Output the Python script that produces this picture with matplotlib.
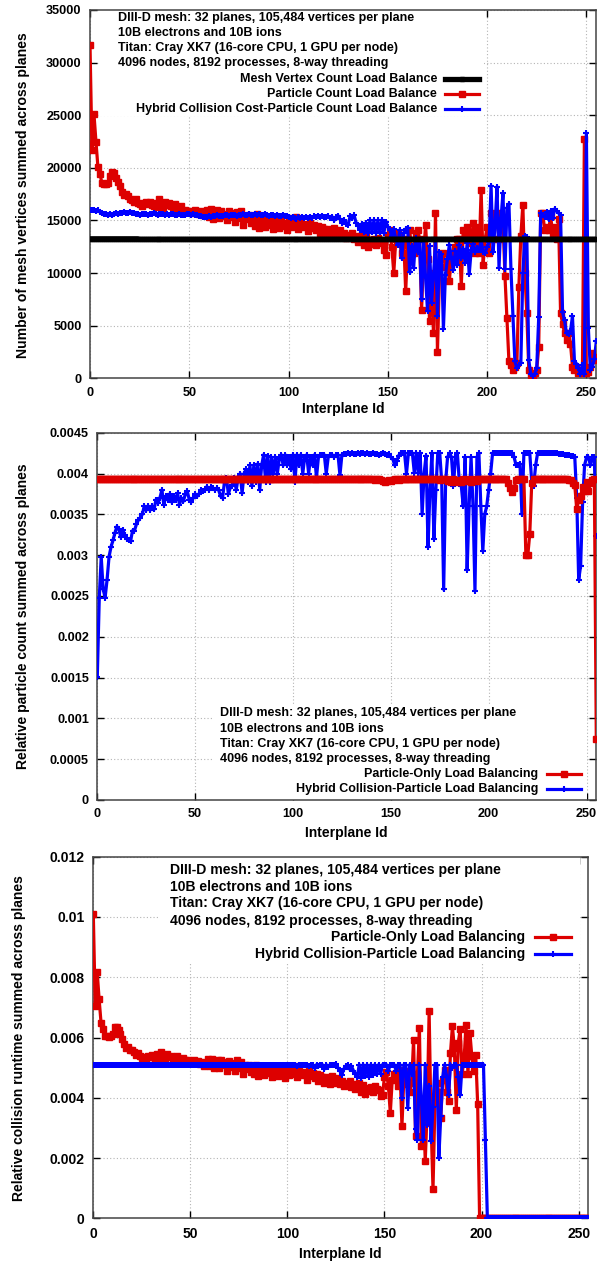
import matplotlib
matplotlib.use('Agg')
import matplotlib.pyplot as plt
from matplotlib.lines import Line2D
from matplotlib.patches import Rectangle
from matplotlib.ticker import FuncFormatter, MultipleLocator
import numpy as np

# ---------------- data ----------------
interplane = np.arange(256)

# Panel 1: number of mesh vertices summed across planes
mesh_vertex_lb = [
    13250, 13250, 13250, 13250, 13250, 13250, 13250, 13250, 13250, 13250,
    13250, 13250, 13250, 13250, 13250, 13250, 13250, 13250, 13250, 13250,
    13250, 13250, 13250, 13250, 13250, 13200, 13200, 13200, 13200, 13200,
    13200, 13200, 13200, 13200, 13200, 13200, 13200, 13200, 13200, 13200,
    13200, 13200, 13200, 13200, 13200, 13200, 13200, 13200, 13200, 13200,
    13200, 13200, 13200, 13200, 13200, 13200, 13200, 13200, 13200, 13200,
    13200, 13200, 13200, 13200, 13200, 13200, 13200, 13200, 13200, 13200,
    13200, 13200, 13200, 13200, 13200, 13200, 13200, 13200, 13200, 13200,
    13200, 13200, 13200, 13200, 13200, 13200, 13200, 13200, 13200, 13200,
    13200, 13200, 13200, 13200, 13200, 13200, 13200, 13200, 13200, 13200,
    13200, 13200, 13200, 13200, 13200, 13200, 13200, 13200, 13200, 13200,
    13200, 13200, 13200, 13200, 13200, 13200, 13200, 13200, 13200, 13200,
    13200, 13200, 13200, 13200, 13200, 13200, 13200, 13200, 13200, 13200,
    13200, 13200, 13200, 13200, 13200, 13200, 13200, 13200, 13200, 13200,
    13200, 13200, 13200, 13200, 13200, 13200, 13200, 13200, 13200, 13200,
    13200, 13200, 13200, 13200, 13200, 13200, 13200, 13200, 13200, 13200,
    13200, 13200, 13200, 13200, 13200, 13200, 13200, 13200, 13200, 13200,
    13200, 13200, 13200, 13200, 13200, 13200, 13200, 13200, 13200, 13200,
    13200, 13200, 13200, 13200, 13200, 13200, 13200, 13200, 13200, 13200,
    13200, 13200, 13200, 13200, 13200, 13200, 13200, 13200, 13200, 13200,
    13200, 13200, 13200, 13200, 13200, 13200, 13200, 13200, 13200, 13200,
    13200, 13200, 13200, 13200, 13200, 13200, 13200, 13200, 13200, 13200,
    13200, 13200, 13200, 13200, 13200, 13200, 13200, 13200, 13200, 13200,
    13200, 13200, 13200, 13200, 13200, 13200, 13200, 13200, 13200, 13200,
    13200, 13200, 13200, 13200, 13200, 13200, 13200, 13200, 13200, 13200,
    13200, 13200, 13200, 13200, 13200, 13200,
]
particle_count_lb = [
    31700, 21700, 25100, 22500, 20050, 19450, 18550, 18450, 18500, 18550,
    19200, 19600, 19500, 19000, 18700, 18250, 17750, 17450, 17500, 17300,
    17050, 16900, 16800, 17000, 16700, 16600, 16350, 16650, 16800, 16600,
    16800, 16500, 16400, 16700, 16300, 17000, 16600, 16200, 16800, 16500,
    16700, 16400, 16300, 16600, 16200, 16100, 16400, 15900, 16000, 15900,
    15800, 15900, 15700, 16000, 15800, 15600, 15900, 15500, 15700, 16000,
    15300, 16100, 15100, 15800, 16000, 15200, 15900, 15400, 15600, 15000,
    15900, 15300, 15700, 14900, 15800, 15200, 15900, 14600, 15400, 15100,
    15500, 14800, 15300, 14500, 15600, 14300, 15200, 14900, 14400, 15300,
    14600, 15100, 14200, 15000, 14700, 14300, 15100, 14500, 14800, 14100,
    15200, 14400, 14900, 14600, 15300, 14200, 14800, 14400, 14700, 14500,
    14000, 14800, 14300, 14600, 14100, 14500, 13800, 14400, 14200, 13600,
    14200, 13900, 13500, 14300, 13600, 14000, 14100, 13500, 13800, 13300,
    13600, 13400, 13800, 13200, 13500, 13000, 13300, 13600, 12700, 13400,
    12500, 13100, 12800, 13200, 12700, 13300, 13000, 12900, 12200, 11700,
    13500, 14100, 12500, 10000, 13200, 13800, 12850, 11900, 13200, 8250,
    12700, 14100, 12200, 11900, 13800, 14100, 13200, 6500, 11600, 14600,
    11300, 5400, 10000, 4300, 15700, 2540, 9700, 11300, 11900, 10600,
    11000, 9200, 11900, 11300, 12500, 13200, 13200, 8730, 14100, 13500,
    14400, 13800, 12850, 14750, 11900, 14400, 11900, 17900, 10800, 13200,
    14400, 11900, 15700, 13200, 15100, 15400, 13200, 15700, 15100, 9700,
    5700, 1600, 1270, 800, 1100, 1430, 8700, 13500, 16500, 10000,
    6200, 800, 320, 160, 480, 800, 3000, 15700, 15700, 14100,
    14400, 14100, 15400, 13800, 14400, 13200, 15100, 6200, 5200, 4300,
    3650, 4300, 3300, 1100, 800, 1100, 480, 800, 480, 22700,
    480, 630, 1100, 2400, 1750, 2060,
]
hybrid_cost_lb = [
    16000, 15950, 15950, 15900, 15950, 15800, 15700, 15650, 15600, 15500,
    15600, 15550, 15600, 15700, 15650, 15750, 15700, 15800, 15750, 15700,
    15800, 15750, 15700, 15650, 15600, 15550, 15600, 15650, 15600, 15550,
    15600, 15650, 15700, 15600, 15550, 15600, 15650, 15600, 15550, 15600,
    15550, 15600, 15650, 15550, 15500, 15600, 15550, 15500, 15550, 15600,
    15650, 15550, 15600, 15500, 15550, 15450, 15400, 15350, 15300, 15350,
    15400, 15350, 15450, 15400, 15500, 15450, 15400, 15450, 15550, 15500,
    15450, 15500, 15550, 15500, 15450, 15550, 15500, 15600, 15550, 15500,
    15600, 15550, 15500, 15600, 15550, 15650, 15500, 15550, 15600, 15500,
    15450, 15500, 15550, 15450, 15500, 15400, 15450, 15500, 15400, 15450,
    15300, 15200, 15300, 15250, 15150, 15300, 15200, 15350, 15250, 15300,
    15200, 15350, 15250, 15400, 15300, 15450, 15350, 15400, 15300, 15350,
    15400, 15200, 15350, 15000, 15300, 15450, 15100, 14800, 15000, 14700,
    14600, 15400, 15200, 15500, 14800, 14500, 14100, 14700, 13900, 14800,
    13800, 15000, 13900, 15000, 13800, 15000, 13900, 15000, 13800, 14900,
    14400, 14100, 13500, 14200, 13200, 12700, 14100, 11400, 13800, 14200,
    14300, 10100, 12600, 10500, 13300, 12000, 13000, 7500, 13100, 9600,
    6400, 12600, 7200, 9700, 13100, 5900, 12000, 11800, 4700, 9800,
    11300, 12700, 11500, 10300, 12100, 10800, 12700, 11400, 12300, 11000,
    12900, 9900, 12200, 12800, 12000, 12400, 12200, 13100, 12000, 11900,
    12500, 13000, 18300, 12000, 14500, 18200, 10500, 15200, 17600, 10400,
    16200, 16600, 10400, 5900, 1600, 1000, 1250, 1500, 10000, 13500,
    13400, 1700, 400, 200, 400, 1000, 5800, 15700, 15500, 15300,
    15800, 15100, 15900, 15200, 16100, 15900, 15700, 15500, 6300, 5500,
    4300, 4200, 4500, 5900, 1600, 1400, 950, 400, 1300, 400,
    23300, 4800, 800, 1100, 1800, 3500,
]

# Panel 2: relative particle count summed across planes
particle_only_count = [
    0.00393, 0.00393, 0.00393, 0.00393, 0.00393, 0.00393, 0.00393, 0.00393, 0.00393, 0.00393,
    0.00393, 0.00393, 0.00393, 0.00393, 0.00393, 0.00393, 0.00393, 0.00393, 0.00393, 0.00393,
    0.00393, 0.00393, 0.00393, 0.00393, 0.00393, 0.00393, 0.00393, 0.00393, 0.00393, 0.00393,
    0.00393, 0.00393, 0.00393, 0.00393, 0.00393, 0.00393, 0.00393, 0.00393, 0.00393, 0.00393,
    0.00393, 0.00393, 0.00393, 0.00393, 0.00393, 0.00393, 0.00393, 0.00393, 0.00393, 0.00393,
    0.00393, 0.00393, 0.00393, 0.00393, 0.00393, 0.00393, 0.00393, 0.00393, 0.00393, 0.00393,
    0.00393, 0.00393, 0.00393, 0.00393, 0.00393, 0.00393, 0.00393, 0.00393, 0.00393, 0.00393,
    0.00393, 0.00393, 0.00393, 0.00393, 0.00393, 0.00393, 0.00393, 0.00393, 0.00393, 0.00393,
    0.00393, 0.00393, 0.00393, 0.00393, 0.00393, 0.00393, 0.00393, 0.00393, 0.00393, 0.00393,
    0.00393, 0.00393, 0.00393, 0.00393, 0.00393, 0.00393, 0.00393, 0.00393, 0.00393, 0.00393,
    0.00393, 0.00393, 0.00393, 0.00393, 0.00393, 0.00393, 0.00393, 0.00393, 0.00393, 0.00393,
    0.00393, 0.00393, 0.00393, 0.00393, 0.00393, 0.00393, 0.00393, 0.00393, 0.00393, 0.00393,
    0.00393, 0.00393, 0.00393, 0.00393, 0.00393, 0.00393, 0.00393, 0.00393, 0.00393, 0.00393,
    0.00393, 0.00393, 0.00393, 0.00393, 0.00393, 0.00393, 0.00393, 0.00393, 0.00393, 0.00393,
    0.00393, 0.00393, 0.00392, 0.00393, 0.00393, 0.00392, 0.00391, 0.00390, 0.00391, 0.00392,
    0.00391, 0.00392, 0.00393, 0.00393, 0.00392, 0.00393, 0.00393, 0.00393, 0.00393, 0.00393,
    0.00393, 0.00393, 0.00393, 0.00393, 0.00393, 0.00393, 0.00393, 0.00393, 0.00393, 0.00393,
    0.00393, 0.00393, 0.00393, 0.00393, 0.00393, 0.00392, 0.00393, 0.00393, 0.00393, 0.00391,
    0.00392, 0.00390, 0.00393, 0.00391, 0.00389, 0.00392, 0.00390, 0.00393, 0.00391, 0.00392,
    0.00393, 0.00390, 0.00392, 0.00393, 0.00391, 0.00393, 0.00393, 0.00393, 0.00393, 0.00393,
    0.00393, 0.00393, 0.00393, 0.00393, 0.00393, 0.00393, 0.00393, 0.00393, 0.00393, 0.00393,
    0.00388, 0.00382, 0.00377, 0.00382, 0.00392, 0.00393, 0.00393, 0.00393, 0.00393, 0.00300,
    0.00300, 0.00326, 0.00388, 0.00393, 0.00393, 0.00393, 0.00393, 0.00393, 0.00393, 0.00393,
    0.00393, 0.00393, 0.00393, 0.00393, 0.00393, 0.00393, 0.00393, 0.00393, 0.00393, 0.00393,
    0.00393, 0.00392, 0.00392, 0.00388, 0.00386, 0.00356, 0.00368, 0.00372, 0.00384, 0.00378,
    0.00390, 0.00379, 0.00388, 0.00392, 0.00393, 0.00075,
]
hybrid_count = [
    0.00151, 0.00247, 0.00298, 0.00258, 0.00248, 0.00270, 0.00298, 0.00310, 0.00318, 0.00327,
    0.00335, 0.00332, 0.00322, 0.00331, 0.00325, 0.00320, 0.00318, 0.00317, 0.00330, 0.00330,
    0.00338, 0.00343, 0.00346, 0.00350, 0.00360, 0.00355, 0.00360, 0.00355, 0.00360, 0.00356,
    0.00368, 0.00364, 0.00370, 0.00380, 0.00362, 0.00372, 0.00368, 0.00375, 0.00365, 0.00372,
    0.00368, 0.00376, 0.00362, 0.00370, 0.00366, 0.00375, 0.00378, 0.00368, 0.00365, 0.00370,
    0.00375, 0.00372, 0.00375, 0.00380, 0.00378, 0.00380, 0.00384, 0.00380, 0.00383, 0.00382,
    0.00380, 0.00382, 0.00380, 0.00372, 0.00370, 0.00390, 0.00394, 0.00375, 0.00383, 0.00385,
    0.00395, 0.00380, 0.00395, 0.00400, 0.00376, 0.00400, 0.00405, 0.00390, 0.00410, 0.00385,
    0.00410, 0.00390, 0.00412, 0.00380, 0.00410, 0.00423, 0.00390, 0.00422, 0.00390, 0.00420,
    0.00400, 0.00420, 0.00400, 0.00418, 0.00423, 0.00410, 0.00423, 0.00410, 0.00420, 0.00405,
    0.00423, 0.00390, 0.00423, 0.00410, 0.00423, 0.00400, 0.00420, 0.00423, 0.00400, 0.00420,
    0.00410, 0.00423, 0.00395, 0.00420, 0.00423, 0.00423, 0.00423, 0.00400, 0.00420, 0.00423,
    0.00423, 0.00420, 0.00423, 0.00423, 0.00398, 0.00423, 0.00424, 0.00424, 0.00425, 0.00424,
    0.00425, 0.00424, 0.00424, 0.00425, 0.00424, 0.00425, 0.00425, 0.00424, 0.00425, 0.00424,
    0.00424, 0.00425, 0.00424, 0.00424, 0.00423, 0.00424, 0.00425, 0.00424, 0.00423, 0.00424,
    0.00420, 0.00418, 0.00410, 0.00415, 0.00422, 0.00425, 0.00425, 0.00425, 0.00400, 0.00425,
    0.00425, 0.00425, 0.00401, 0.00425, 0.00401, 0.00425, 0.00350, 0.00400, 0.00422, 0.00310,
    0.00380, 0.00425, 0.00320, 0.00380, 0.00425, 0.00425, 0.00390, 0.00258, 0.00390, 0.00420,
    0.00425, 0.00420, 0.00385, 0.00420, 0.00425, 0.00390, 0.00385, 0.00360, 0.00420, 0.00282,
    0.00360, 0.00420, 0.00360, 0.00256, 0.00420, 0.00425, 0.00360, 0.00305, 0.00350, 0.00360,
    0.00380, 0.00400, 0.00425, 0.00425, 0.00425, 0.00425, 0.00425, 0.00425, 0.00425, 0.00425,
    0.00425, 0.00425, 0.00425, 0.00420, 0.00410, 0.00410, 0.00412, 0.00350, 0.00425, 0.00425,
    0.00425, 0.00425, 0.00390, 0.00385, 0.00410, 0.00425, 0.00425, 0.00425, 0.00425, 0.00425,
    0.00425, 0.00425, 0.00425, 0.00425, 0.00425, 0.00425, 0.00424, 0.00424, 0.00424, 0.00423,
    0.00423, 0.00423, 0.00422, 0.00422, 0.00420, 0.00370, 0.00270, 0.00287, 0.00365, 0.00410,
    0.00420, 0.00420, 0.00410, 0.00420, 0.00420, 0.00323,
]

# Panel 3: relative collision runtime summed across planes
particle_only_runtime = [
    0.0101, 0.00703, 0.00817, 0.00727, 0.00648, 0.00628, 0.00604, 0.00604, 0.00602, 0.00604,
    0.0061, 0.00634, 0.00634, 0.00626, 0.0061, 0.00595, 0.0058, 0.00565, 0.0057, 0.00558,
    0.0056, 0.00551, 0.00543, 0.00548, 0.00538, 0.00532, 0.00536, 0.0053, 0.00538, 0.00534,
    0.00542, 0.00536, 0.00528, 0.00545, 0.00532, 0.00552, 0.00538, 0.0053, 0.00546, 0.00534,
    0.0054, 0.0053, 0.00526, 0.00538, 0.00528, 0.0052, 0.00532, 0.00524, 0.0052, 0.00526,
    0.00522, 0.00518, 0.00524, 0.00515, 0.00522, 0.00512, 0.0052, 0.00505, 0.00516, 0.00528,
    0.00505, 0.0053, 0.00498, 0.00522, 0.00526, 0.005, 0.00524, 0.00508, 0.00518, 0.0049,
    0.00522, 0.00502, 0.00516, 0.00488, 0.00524, 0.00498, 0.0052, 0.0048, 0.00508, 0.00495,
    0.00508, 0.00485, 0.00502, 0.00478, 0.0051, 0.00472, 0.00502, 0.0049, 0.00475, 0.00505,
    0.00482, 0.00498, 0.00468, 0.00495, 0.00485, 0.00472, 0.005, 0.00478, 0.00488, 0.00465,
    0.00502, 0.00475, 0.0049, 0.0048, 0.00505, 0.00468, 0.00488, 0.00475, 0.00485, 0.00478,
    0.0046, 0.00488, 0.00472, 0.00482, 0.00465, 0.00478, 0.00455, 0.00475, 0.00468, 0.00448,
    0.0047, 0.00458, 0.00445, 0.00472, 0.00448, 0.00462, 0.00465, 0.00445, 0.00455, 0.0044,
    0.00448, 0.00442, 0.00455, 0.00435, 0.00445, 0.00428, 0.0044, 0.00448, 0.00418, 0.00442,
    0.00412, 0.00432, 0.00422, 0.00435, 0.00418, 0.00438, 0.00428, 0.00425, 0.00405, 0.0041,
    0.0047, 0.00485, 0.0044, 0.0035, 0.0046, 0.00478, 0.00482, 0.0044, 0.00492, 0.00306,
    0.0047, 0.00445, 0.0049, 0.0042, 0.0045, 0.00593, 0.00273, 0.0048, 0.00631, 0.0024,
    0.0039, 0.0019, 0.0036, 0.00687, 0.00317, 0.00096, 0.00383, 0.0045, 0.0042, 0.00333,
    0.0046, 0.00493, 0.0042, 0.0039, 0.00549, 0.00637, 0.00565, 0.0036, 0.00582, 0.00628,
    0.0048, 0.00527, 0.00643, 0.0048, 0.00615, 0.00538, 0.0049, 0.00543, 0.0038, 0.0,
    0.0, 0.0, 0.0, 0.0, 0.0, 0.0, 0.0, 0.0, 0.0, 0.0,
    0.0, 0.0, 0.0, 0.0, 0.0, 0.0, 0.0, 0.0, 0.0, 0.0,
    0.0, 0.0, 0.0, 0.0, 0.0, 0.0, 0.0, 0.0, 0.0, 0.0,
    0.0, 0.0, 0.0, 0.0, 0.0, 0.0, 0.0, 0.0, 0.0, 0.0,
    0.0, 0.0, 0.0, 0.0, 0.0, 0.0, 0.0, 0.0, 0.0, 0.0,
    0.0, 0.0, 0.0, 0.0, 0.0, 0.0,
]
hybrid_runtime = [
    0.0051, 0.0051, 0.0051, 0.0051, 0.0051, 0.0051, 0.0051, 0.0051, 0.0051, 0.0051,
    0.0051, 0.0051, 0.0051, 0.0051, 0.0051, 0.0051, 0.0051, 0.0051, 0.0051, 0.0051,
    0.0051, 0.0051, 0.0051, 0.0051, 0.0051, 0.0051, 0.0051, 0.0051, 0.0051, 0.0051,
    0.0051, 0.0051, 0.0051, 0.0051, 0.0051, 0.0051, 0.0051, 0.0051, 0.0051, 0.0051,
    0.0051, 0.0051, 0.0051, 0.0051, 0.0051, 0.0051, 0.0051, 0.0051, 0.0051, 0.0051,
    0.0051, 0.0051, 0.0051, 0.0051, 0.0051, 0.0051, 0.0051, 0.0051, 0.0051, 0.0051,
    0.0051, 0.0051, 0.0051, 0.0051, 0.0051, 0.0051, 0.0051, 0.0051, 0.0051, 0.0051,
    0.0051, 0.0051, 0.0051, 0.0051, 0.0051, 0.0051, 0.0051, 0.0051, 0.0051, 0.0051,
    0.0051, 0.0051, 0.0051, 0.0051, 0.0051, 0.0051, 0.0051, 0.0051, 0.0051, 0.0051,
    0.0051, 0.0051, 0.0051, 0.0051, 0.0051, 0.0051, 0.0051, 0.0051, 0.0051, 0.0051,
    0.0051, 0.0051, 0.00508, 0.0051, 0.0051, 0.00505, 0.0051, 0.0051, 0.0051, 0.00508,
    0.0051, 0.00505, 0.0051, 0.0051, 0.00498, 0.0051, 0.00505, 0.0051, 0.0051, 0.00495,
    0.0051, 0.00502, 0.0051, 0.0051, 0.00508, 0.00512, 0.005, 0.0049, 0.00475, 0.00495,
    0.00505, 0.0051, 0.00495, 0.00505, 0.0049, 0.0048, 0.0047, 0.0051, 0.00465, 0.0051,
    0.00472, 0.0051, 0.0047, 0.0051, 0.00475, 0.0051, 0.0048, 0.0051, 0.0048, 0.0051,
    0.0051, 0.0051, 0.0049, 0.0051, 0.0051, 0.0051, 0.0049, 0.0051, 0.0051, 0.004,
    0.0051, 0.0051, 0.00367, 0.0051, 0.0048, 0.0051, 0.00295, 0.0026, 0.0051, 0.004,
    0.0026, 0.0051, 0.0031, 0.0044, 0.00256, 0.0037, 0.0051, 0.0051, 0.002, 0.0034,
    0.0047, 0.0051, 0.0047, 0.0041, 0.0051, 0.005, 0.0051, 0.0051, 0.0047, 0.0041,
    0.0051, 0.0051, 0.0051, 0.0051, 0.0051, 0.0051, 0.0051, 0.0051, 0.0051, 0.0051,
    0.0051, 0.0051, 0.0026, 0.0, 0.0, 0.0, 0.0, 0.0, 0.0, 0.0,
    0.0, 0.0, 0.0, 0.0, 0.0, 0.0, 0.0, 0.0, 0.0, 0.0,
    0.0, 0.0, 0.0, 0.0, 0.0, 0.0, 0.0, 0.0, 0.0, 0.0,
    0.0, 0.0, 0.0, 0.0, 0.0, 0.0, 0.0, 0.0, 0.0, 0.0,
    0.0, 0.0, 0.0, 0.0, 0.0, 0.0, 0.0, 0.0, 0.0, 0.0,
    0.0, 0.0, 0.0, 0.0, 0.0, 0.0,
]

annotation_lines = [
    "DIII-D mesh: 32 planes, 105,484 vertices per plane",
    "10B electrons and 10B ions",
    "Titan: Cray XK7 (16-core CPU, 1 GPU per node)",
    "4096 nodes, 8192 processes, 8-way threading",
]
legend1 = ["Mesh Vertex Count Load Balance", "Particle Count Load Balance",
           "Hybrid Collision Cost-Particle Count Load Balance"]
legend23 = ["Particle-Only Load Balancing", "Hybrid Collision-Particle Load Balancing"]
ylabels = ["Number of mesh vertices summed across planes",
           "Relative particle count summed across planes",
           "Relative collision runtime summed across planes"]
xlabel = "Interplane Id"

# ---------------- style ----------------
plt.rcParams['font.family'] = ['Liberation Sans', 'DejaVu Sans']
plt.rcParams['font.weight'] = 'bold'

RED = '#dd0000'
BLUE = '#0000ff'
BLACK = '#000000'

W, H = 603, 1262
fig = plt.figure(figsize=(W / 100, H / 100), dpi=100)
renderer = fig.canvas.get_renderer()


def fx(x):
    return x / W


def fy(y):
    return 1 - y / H


def fit(t, target_w):
    w = t.get_window_extent(renderer).width
    t.set_fontsize(t.get_fontsize() * target_w / w)


def make_axes(l, t, r, b, ymax, ystep, fmt, fs, pad):
    ax = fig.add_axes([fx(l), fy(b), fx(r) - fx(l), fy(t) - fy(b)])
    ax.set_xlim(0, 255)
    ax.set_ylim(0, ymax)
    ax.xaxis.set_major_locator(MultipleLocator(50))
    ax.yaxis.set_major_locator(MultipleLocator(ystep))
    ax.yaxis.set_major_formatter(FuncFormatter(fmt))
    ax.tick_params(direction='in', top=True, right=True, length=5, width=1,
                   labelsize=fs, pad=pad, colors='#000000')
    ax.grid(True, linestyle=(0, (1, 2)), color='#b4b4b4', lw=0.8)
    for s in ax.spines.values():
        s.set_color('#444444')
        s.set_linewidth(1.1)
    for lab in ax.get_xticklabels() + ax.get_yticklabels():
        lab.set_fontweight('bold')
    return ax


def white_box(ax, x0, y0, x1, y1):
    ax.add_patch(Rectangle((fx(x0), fy(y1)), fx(x1) - fx(x0), fy(y0) - fy(y1),
                           transform=fig.transFigure, facecolor='white',
                           edgecolor='none', zorder=1.8))


def annotate(x_left, ys, target_w):
    ts = []
    for txt, y in zip(annotation_lines, ys):
        ts.append(fig.text(fx(x_left), fy(y), txt, ha='left', va='center',
                           fontsize=9, fontweight='bold'))
    fit(ts[0], target_w)
    for t in ts[1:]:
        t.set_fontsize(ts[0].get_fontsize())
    return ts[0].get_fontsize()


def key(labels, styles, x_right, ys, sx0, sx1, fs):
    for lab, st, y in zip(labels, styles, ys):
        fig.text(fx(x_right), fy(y), lab, ha='right', va='center',
                 fontsize=fs, fontweight='bold')
        xm = (sx0 + sx1) / 2
        fig.add_artist(Line2D([fx(sx0), fx(xm), fx(sx1)], [fy(y)] * 3,
                              markevery=[1], **st))


def gfmt(v, pos):
    return '%g' % round(v, 6)


red_st = dict(color=RED, lw=2.3, marker='s', ms=4.2, mec=RED, mfc=RED)
blue_st = dict(color=BLUE, lw=2.3, marker='+', ms=4.5, mew=1.5)
black_st = dict(color=BLACK, lw=3.8, marker='s', ms=2.2)

# ---------------- panel 1 ----------------
ax1 = make_axes(90, 10, 596.3, 378.3, 35000, 5000, gfmt, 9.1, 6)
white_box(ax1, 100, 10, 484, 116)
ax1.plot(interplane, particle_count_lb, zorder=3, **red_st)
ax1.plot(interplane, hybrid_cost_lb, zorder=4, **blue_st)
ax1.plot(interplane, mesh_vertex_lb, zorder=5, **black_st)
fs1 = annotate(118, [18, 33.3, 48.3, 63.3], 297)
key(legend1, [black_st, red_st, blue_st], 437, [78.7, 93.7, 109], 445, 479, fs1)

# ---------------- panel 2 ----------------
ax2 = make_axes(97.3, 432.7, 596.3, 800, 0.0045, 0.0005, gfmt, 9.1, 6)
white_box(ax2, 212, 705, 587, 800)
ax2.plot(interplane, hybrid_count, zorder=3, **blue_st)
ax2.plot(interplane, particle_only_count, zorder=4, **red_st)
fs2 = annotate(220, [713.3, 728.7, 743.7, 758.7], 297)
key(legend23, [red_st, blue_st], 538.5, [774.3, 789], 546.5, 581, fs2)

# ---------------- panel 3 ----------------
ax3 = make_axes(93.3, 856.7, 588.3, 1218.3, 0.012, 0.002, gfmt, 10, 6.3)
white_box(ax3, 160, 857, 580, 963)
ax3.plot(interplane, particle_only_runtime, zorder=3, **red_st)
ax3.plot(interplane, hybrid_runtime, zorder=4, **blue_st)
fs3 = annotate(170.5, [870, 886.7, 903.3, 920.5], 331)
key(legend23, [red_st, blue_st], 525, [937.3, 954.3], 534.5, 571, fs3)

# ---------------- axis labels ----------------
for (xc, yc, w), lab in zip([(23, 195, 325), (23, 616.5, 307), (19, 1038, 327)], ylabels):
    t = fig.text(fx(xc), fy(yc), lab, rotation=90, ha='center', va='center',
                 fontsize=9.5, fontweight='bold')
    tw = t.get_window_extent(renderer).height
    t.set_fontsize(t.get_fontsize() * w / tw)

for xc, yc in [(343.5, 409.3), (346.7, 833.3), (340.7, 1254.3)]:
    t = fig.text(fx(xc), fy(yc), xlabel, ha='center', va='center',
                 fontsize=9.5, fontweight='bold')
    fit(t, 82.5)

fig.savefig('out.png', dpi=100)
